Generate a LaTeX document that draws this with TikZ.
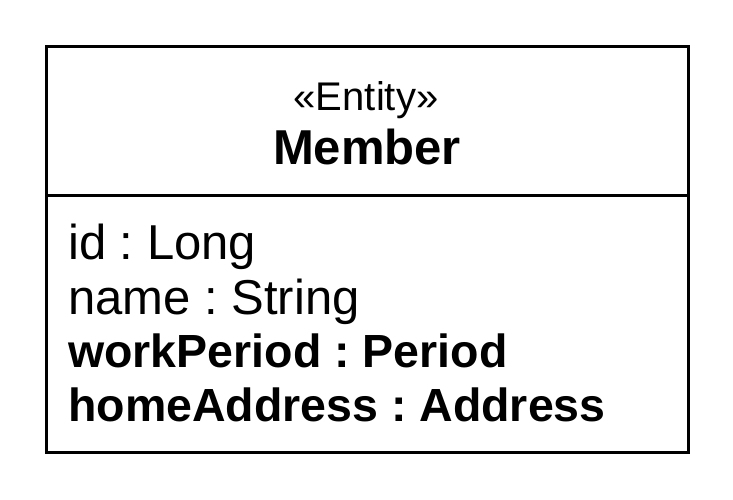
\documentclass[tikz,border=0pt]{standalone}
\usepackage{fontspec}
\setmainfont{Liberation Sans}
\frenchspacing
\begin{document}
\begin{tikzpicture}[x=1pt,y=-1pt,
  umlbox/.style={draw=black,line width=3pt},
  attr/.style={anchor=base west,inner sep=0pt,font=\fontsize{49}{52}\selectfont},
  battr/.style={attr,font=\fontsize{46.5}{52}\selectfont\bfseries}]
\useasboundingbox (0,0) rectangle (733,499);
\draw[umlbox] (46,46) rectangle (688,452);
\coordinate (dl) at (46,195);
\coordinate (dr) at (688,195);
\draw[umlbox] (dl) -- (dr);
\node[anchor=base,inner sep=0pt,font=\fontsize{40}{44}\selectfont] (st) at (366,110) {«Entity»};
\node[anchor=base,inner sep=0pt,font=\fontsize{49}{52}\selectfont\bfseries] (nm) at (367,164) {Member};
\node[attr] (a1) at (68,259) {id : Long};
\node[attr] (a2) at (68,314) {name : String};
\node[battr] (a3) at (68,367) {workPeriod : Period};
\node[battr] (a4) at (68,421) {homeAddress : Address};
\end{tikzpicture}
\end{document}
